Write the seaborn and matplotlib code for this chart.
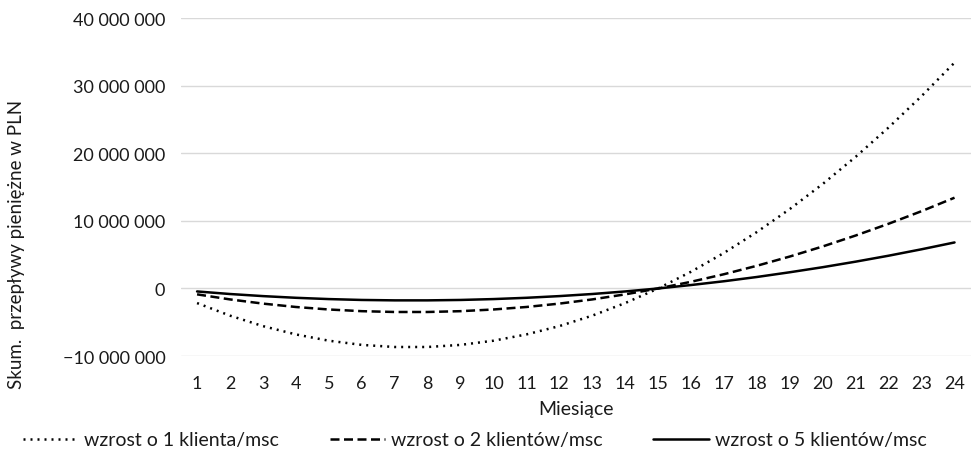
import numpy as np
import pandas as pd
import matplotlib
matplotlib.use("Agg")
import matplotlib.pyplot as plt
import seaborn as sns
from matplotlib.ticker import FuncFormatter

months = list(range(1, 25))
s1_label = "wzrost o 1 klienta/msc"
s2_label = "wzrost o 2 klientów/msc"
s5_label = "wzrost o 5 klientów/msc"
# values in millions PLN
s1 = [-2.16, -4.02, -5.57, -6.80, -7.73, -8.35, -8.66, -8.66, -8.35, -7.73, -6.80, -5.57,
      -4.02, -2.16, 0.0, 2.48, 5.26, 8.36, 11.76, 15.47, 19.49, 23.83, 28.47, 33.42]
s2 = [-0.87, -1.62, -2.24, -2.74, -3.11, -3.36, -3.48, -3.48, -3.36, -3.11, -2.74, -2.24,
      -1.62, -0.87, 0.0, 0.99, 2.11, 3.36, 4.73, 6.22, 7.84, 9.58, 11.44, 13.43]
s5 = [-0.44, -0.82, -1.13, -1.38, -1.57, -1.70, -1.76, -1.76, -1.70, -1.57, -1.38, -1.13,
      -0.82, -0.44, 0.0, 0.51, 1.07, 1.70, 2.40, 3.15, 3.97, 4.85, 5.80, 6.81]
y_ticks = [-10_000_000, 0, 10_000_000, 20_000_000, 30_000_000, 40_000_000]
x_label = "Miesiące"
y_label = "Skum.  przepływy pieniężne w PLN"

sns.set_theme(style="white")
FONT = ["Lato", "DejaVu Sans"]
plt.rcParams["font.family"] = FONT

rows = []
for name, vals in [(s1_label, s1), (s2_label, s2), (s5_label, s5)]:
    for m, v in zip(months, vals):
        rows.append({"Miesiąc": m, "Wartość": v * 1_000_000, "Seria": name})
df = pd.DataFrame(rows)

fig = plt.figure(figsize=(9.71, 4.56), dpi=100)
ax = fig.add_axes([0.186, 0.217, 0.814, 0.741])

sns.lineplot(data=df, x="Miesiąc", y="Wartość", hue="Seria", style="Seria",
             palette={s1_label: "black", s2_label: "black", s5_label: "black"},
             dashes={s1_label: (0.8, 2.0), s2_label: (3.6, 1.8), s5_label: ""},
             linewidth=1.8, ax=ax, legend=True)
for ln in ax.get_lines():
    ln.set_dash_capstyle("butt")

ax.set_xlim(0.5, 24.5)
ax.set_ylim(-10_000_000, 40_000_000)
ax.set_xticks(months)
ax.set_xticklabels([str(m) for m in months])
ax.set_yticks(y_ticks)


def fmt(v, pos):
    s = f"{abs(int(v)):,}".replace(",", " ")
    return ("\u2212" + s) if v < 0 else s


ax.yaxis.set_major_formatter(FuncFormatter(fmt))
ax.grid(axis="y", color="#d9d9d9", linewidth=1.0)
ax.grid(axis="x", visible=False)
for sp in ax.spines.values():
    sp.set_visible(False)
ax.tick_params(axis="both", length=0, labelsize=13, colors="#1a1a1a")
ax.tick_params(axis="y", pad=11)
ax.tick_params(axis="x", pad=14)
ax.set_xlabel(x_label, fontsize=14, color="#1a1a1a", labelpad=6)
ax.set_ylabel("")
fig.text(17 / 971, 1 - 244 / 456, y_label, rotation=90, ha="center", va="center",
         fontsize=13.5, color="#1a1a1a")

handles, labels = ax.get_legend_handles_labels()
ax.get_legend().remove()
fig.legend(handles, labels, loc="center", bbox_to_anchor=(0.489, 1 - 441 / 456), ncol=3,
           frameon=False, fontsize=14, handlelength=2.85, handletextpad=0.31,
           columnspacing=2.6, labelcolor="#1a1a1a")

fig.savefig("out.png", dpi=100)
